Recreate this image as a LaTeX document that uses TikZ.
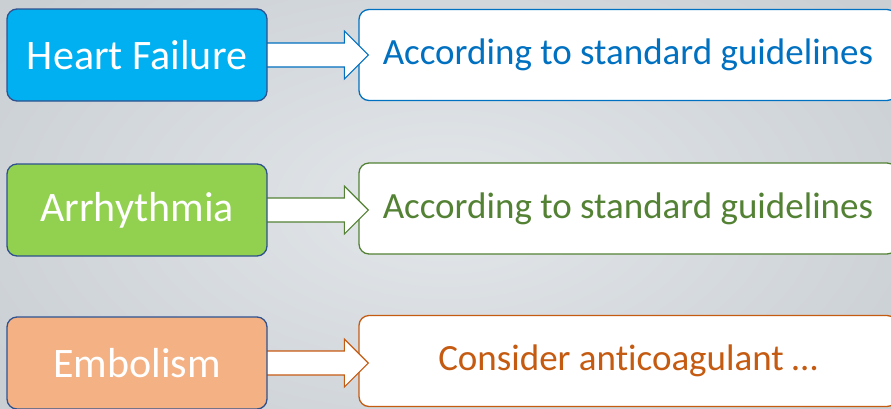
\documentclass[tikz,border=0pt]{standalone}
\usepackage{fontspec}
\setmainfont{Carlito}[Ligatures={NoCommon}]
\usetikzlibrary{calc}
\definecolor{bgin}{HTML}{E3E7EA}
\definecolor{bgout}{HTML}{CACFD4}
\definecolor{lborder}{HTML}{2F528F}
\definecolor{hfc}{HTML}{00B0F0}
\definecolor{arc}{HTML}{92D050}
\definecolor{emc}{HTML}{F4B183}
\definecolor{bluet}{HTML}{0070C0}
\definecolor{greent}{HTML}{548235}
\definecolor{oranget}{HTML}{C55A11}
\tikzset{
  leftbox/.style={draw=lborder, line width=1.3pt, rounded corners=10pt,
    minimum width=260pt, minimum height=92pt, inner sep=0pt, text=white,
    font=\fontsize{42}{46}\selectfont},
  rightbox/.style={fill=white, line width=1.3pt, rounded corners=10pt,
    minimum width=538pt, minimum height=91pt, inner sep=0pt,
    font=\fontsize{37}{42}\selectfont},
  fatarrow/.style={fill=white, line width=1.2pt, line join=miter}
}
\begin{document}
\begin{tikzpicture}[x=1pt,y=-1pt]
\useasboundingbox (0,0) rectangle (891,408);
\clip (0,0) rectangle (891,408);
\shade[inner color=bgin, outer color=bgout] (-100,-100) rectangle (991,508);

% right boxes
\node[rightbox, draw=bluet, text=bluet] (hfr) at (628,55) {According to standard guidelines};
\node[rightbox, draw=greent, text=greent] (arr) at (628,208.5) {According to standard guidelines};
\node[rightbox, draw=oranget, text=oranget] (emr) at (628,361) {Consider anticoagulant …};

% left box centres
\path (137,55) coordinate (hfc0) (137,210) coordinate (arc0) (137,363) coordinate (emc0);

% arrows
\foreach \l/\r/\c in {hfc0/hfr/bluet, arc0/arr/greent, emc0/emr/oranget}{
  \draw[fatarrow, draw=\c]
    let \p1=(\l), \p2=(\r.west) in
    (\x1+120,\y1-12) -- (\x2-14,\y1-12) -- (\x2-14,\y1-24) -- (\x2+10,\y1)
    -- (\x2-14,\y1+24) -- (\x2-14,\y1+12) -- (\x1+120,\y1+12) -- cycle;
}

% left boxes
\node[leftbox, fill=hfc] (hf) at (hfc0) {Heart Failure};
\node[leftbox, fill=arc] (ar) at (arc0) {Arrhythmia};
\node[leftbox, fill=emc] (em) at (emc0) {Embolism};
\end{tikzpicture}
\end{document}
